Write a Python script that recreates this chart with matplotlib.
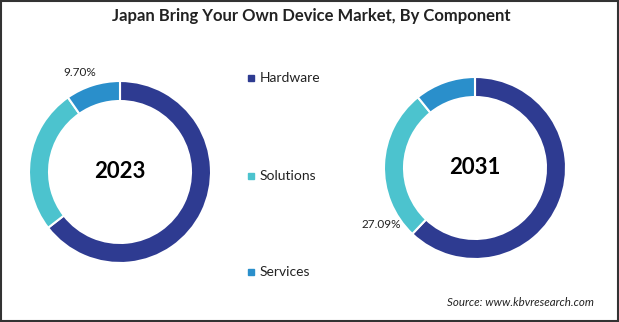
import matplotlib
matplotlib.use("Agg")
import matplotlib.pyplot as plt
from matplotlib.patches import Rectangle

components = ['Hardware', 'Solutions', 'Services']
shares_2023 = [64.5, 25.8, 9.70]
shares_2031 = [62.1, 27.09, 10.81]
years = ['2023', '2031']
colors = ['#2E3B91', '#4CC3CE', '#2A8FCB']

plt.rcParams['font.family'] = ['Lato', 'DejaVu Sans']

W, H = 619, 322
fig = plt.figure(figsize=(W / 100, H / 100), dpi=100)


def donut_axes(cx, cy, r):
    # cx, cy, r in pixels, y measured from top
    ax = fig.add_axes([(cx - r) / W, (H - cy - r) / H, 2 * r / W, 2 * r / H])
    ax.axis('off')
    return ax


for shares, year, (cx, cy) in zip([shares_2023, shares_2031], years,
                                  [(120, 172), (475, 168)]):
    ax = donut_axes(cx, cy, 91)
    ax.pie(shares, colors=colors, startangle=90, counterclock=False, radius=1,
           wedgeprops=dict(width=0.22, edgecolor='white', linewidth=1.5))
    ax.set_xlim(-1, 1)
    ax.set_ylim(-1, 1)
    ax.set_aspect('equal')
    ax.text(0, 0, year, ha='center', va='center', fontsize=16,
            fontweight='bold', color='black')

# percentage labels
fig.text(80 / W, 1 - 73 / H, '%.2f%%' % shares_2023[2], ha='center', va='center',
         fontsize=8.5, color='#222222')
fig.text(381 / W, 1 - 224 / H, '%.2f%%' % shares_2031[1], ha='center', va='center',
         fontsize=8.5, color='#222222')

# legend
for name, col, y in zip(components, colors, [78, 176, 272]):
    fig.patches.append(Rectangle((248 / W, 1 - (y + 3) / H), 6 / W, 6 / H,
                                 transform=fig.transFigure, color=col))
    fig.text(260 / W, 1 - y / H, name, ha='left', va='center', fontsize=10,
             color='#222222')

fig.text(311 / W, 1 - 16 / H, 'Japan Bring Your Own Device Market, By Component',
         ha='center', va='center', fontsize=12, fontweight='bold',
         color='#222222')
fig.text(520 / W, 1 - 302 / H, 'Source: www.kbvresearch.com', ha='center',
         va='center', fontsize=8.3, style='italic', color='#222222')

fig.patches.append(Rectangle((0.001, 0.002), 0.997, 0.995, transform=fig.transFigure,
                             fill=False, edgecolor='#333333', linewidth=1.5))

fig.savefig('out.png', dpi=100)
